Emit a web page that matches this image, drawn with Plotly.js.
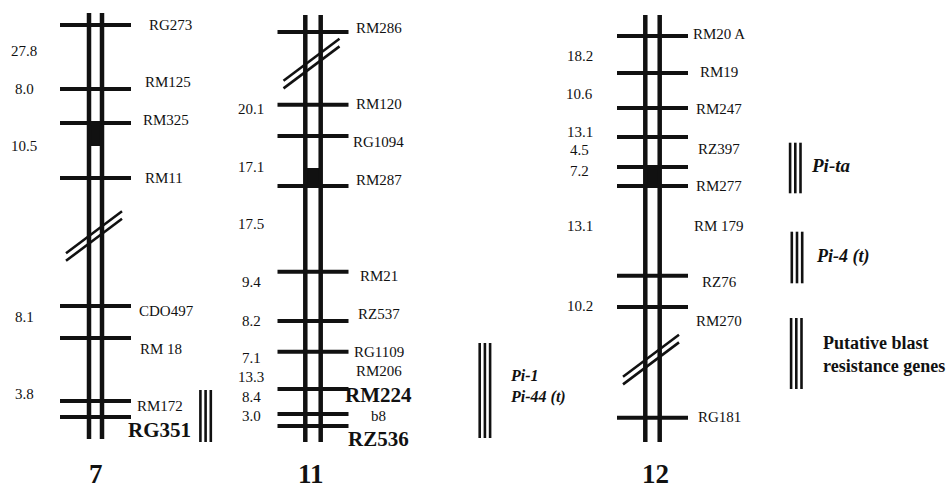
<!DOCTYPE html>
<html><head><meta charset="utf-8">
<script src="https://cdn.plot.ly/plotly-3.0.1.min.js"></script>
<style>html,body{margin:0;padding:0;background:#fff}#chart{width:951px;height:490px}</style>
</head><body><div id="chart"></div>
<script>
// ---------------- data (map positions) ----------------
const chromosomes = ['7', '11', '12'];

const chr7Loci = [25, 89, 123, 178, 306, 338, 401, 417];
const chr7Markers = ['RG273', 'RM125', 'RM325', 'RM11', 'CDO497', 'RM 18', 'RM172', 'RG351'];
const chr7MarkerY = [25, 82, 119.5, 177.5, 311, 349, 406, 430];
const chr7Distances = [27.8, 8.0, 10.5, 8.1, 3.8];
const chr7DistanceY = [51, 89, 146, 317, 394];
const chr7Centromere = [123, 146];
const chr7Break = 236;

const chr11Loci = [32, 104.7, 136, 186, 271.7, 321, 351.7, 389, 414, 426];
const chr11Markers = ['RM286', 'RM120', 'RG1094', 'RM287', 'RM21', 'RZ537', 'RG1109', 'RM206', 'RM224', 'b8', 'RZ536'];
const chr11MarkerY = [27.5, 104, 142, 180, 276, 314, 351.7, 371, 394.5, 416, 439];
const chr11Distances = [20.1, 17.1, 17.5, 9.4, 8.2, 7.1, 13.3, 8.4, 3.0];
const chr11DistanceY = [109, 167, 224, 282, 321, 358, 377, 396.5, 416];
const chr11Centromere = [168, 186];
const chr11Break = 63.6;

const chr12Loci = [36, 73, 108, 137, 167, 186, 275.7, 307, 417.7];
const chr12Markers = ['RM20 A', 'RM19', 'RM247', 'RZ397', 'RM277', 'RM 179', 'RZ76', 'RM270', 'RG181'];
const chr12MarkerY = [34, 71.5, 109, 148.5, 186, 225.8, 282, 320.5, 416.5];
const chr12Distances = [18.2, 10.6, 13.1, 4.5, 7.2, 13.1, 10.2];
const chr12DistanceY = [55.8, 94, 132, 149.5, 171, 225.8, 306];
const chr12Centromere = [167, 187];
const chr12Break = 359.6;

const highlightedMarkers = ['RG351', 'RM224', 'RZ536'];

const geneLabels = ['', 'Pi-1<br>Pi-44 (t)', 'Pi-ta', 'Pi-4 (t)', 'Putative blast<br>resistance genes'];
const geneSpanStart = [390, 343, 142.7, 231.7, 318];
const geneSpanEnd = [442, 438, 193.3, 283.3, 389];

// ---------------- layout helpers (positions / styles) ----------------
const chrGeom = [
  {cx: 95.5, gap: 6.5, top: 13, bottom: 439, distX: 24, titleX: 96,
   labelX: [170, 167.5, 166, 164, 166, 160.7, 160, 159.5]},
  {cx: 313, gap: 7.7, top: 15, bottom: 442, distX: 251, titleX: 311,
   labelX: 378.5},
  {cx: 652.5, gap: 7.2, top: 15, bottom: 442, distX: 579.5, titleX: 655.5,
   labelX: 719}
];
const geneBarX = [205.6, 484.9, 795.3, 797, 796.3];
const geneTextX = [0, 508, 809, 814, 821];
const geneTextY = [0, 386.5, 165, 256.5, 354];
const geneFont = [0, 16, 19, 18, 18];
const geneItalic = [false, true, true, true, false];

const FONT = 'Liberation Serif';
const INK = '#111';
const tickHalf = 35.5;

const chrData = [
  {loci: chr7Loci, markers: chr7Markers, markerY: chr7MarkerY, dist: chr7Distances, distY: chr7DistanceY, cen: chr7Centromere, brk: chr7Break},
  {loci: chr11Loci, markers: chr11Markers, markerY: chr11MarkerY, dist: chr11Distances, distY: chr11DistanceY, cen: chr11Centromere, brk: chr11Break},
  {loci: chr12Loci, markers: chr12Markers, markerY: chr12MarkerY, dist: chr12Distances, distY: chr12DistanceY, cen: chr12Centromere, brk: chr12Break}
];

const traces = [];
const shapes = [];
const annotations = [];

chrData.forEach((c, i) => {
  const g = chrGeom[i];
  shapes.push({type: 'rect', xref: 'x', yref: 'y', x0: g.cx - g.gap, x1: g.cx + g.gap,
    y0: c.cen[0], y1: c.cen[1], fillcolor: INK, line: {width: 0}, layer: 'below'});
  [g.cx - g.gap, g.cx + g.gap].forEach(x => {
    traces.push({type: 'scatter', mode: 'lines', x: [x, x], y: [g.top, g.bottom],
      line: {color: INK, width: 4.5}, hoverinfo: 'skip'});
  });
  const tx = [], ty = [];
  c.loci.forEach(y => { tx.push(g.cx - tickHalf, g.cx + tickHalf, null); ty.push(y, y, null); });
  traces.push({type: 'scatter', mode: 'lines', x: tx, y: ty, line: {color: INK, width: 4}, hoverinfo: 'skip'});
  const bx = g.cx - 1.5;
  [-3.8, 3.8].forEach(off => {
    shapes.push({type: 'line', xref: 'x', yref: 'y', x0: bx - 28, x1: bx + 28,
      y0: c.brk + off + 21, y1: c.brk + off - 21, line: {color: INK, width: 2.6}});
  });
  c.markers.forEach((m, k) => {
    const bold = highlightedMarkers.includes(m);
    const lx = Array.isArray(g.labelX) ? g.labelX[k] : g.labelX;
    annotations.push({xref: 'x', yref: 'y', x: lx, y: c.markerY[k], xanchor: 'center', yanchor: 'middle',
      text: bold ? '<b>' + m + '</b>' : m, showarrow: false,
      font: {family: FONT, size: bold ? 21 : 15, color: INK}});
  });
  c.dist.forEach((d, k) => {
    annotations.push({xref: 'x', yref: 'y', x: g.distX, y: c.distY[k], xanchor: 'center', yanchor: 'middle',
      text: d.toFixed(1), showarrow: false, font: {family: FONT, size: 15, color: INK}});
  });
  annotations.push({xref: 'x', yref: 'y', x: g.titleX, y: 490, xanchor: 'center', yanchor: 'bottom',
    text: '<b>' + chromosomes[i] + '</b>', showarrow: false, borderpad: 0,
    font: {family: FONT, size: 27, color: INK}});
});

geneLabels.forEach((lab, k) => {
  [-5.2, 0, 5.2].forEach(off => {
    traces.push({type: 'scatter', mode: 'lines', x: [geneBarX[k] + off, geneBarX[k] + off],
      y: [geneSpanStart[k], geneSpanEnd[k]], line: {color: INK, width: 2.6}, hoverinfo: 'skip'});
  });
  if (lab) {
    const t = geneItalic[k] ? '<b><i>' + lab + '</i></b>' : '<b>' + lab + '</b>';
    annotations.push({xref: 'x', yref: 'y', x: geneTextX[k], y: geneTextY[k], xanchor: 'left', yanchor: 'middle',
      align: 'left', text: t, showarrow: false, font: {family: FONT, size: geneFont[k], color: INK}});
  }
});

const layout = {
  width: 951, height: 490,
  margin: {l: 0, r: 0, t: 0, b: 0, pad: 0},
  paper_bgcolor: '#fff', plot_bgcolor: '#fff',
  showlegend: false,
  font: {family: FONT, color: INK},
  xaxis: {range: [0, 951], visible: false, fixedrange: true},
  yaxis: {range: [490, 0], visible: false, fixedrange: true},
  shapes: shapes,
  annotations: annotations
};

Plotly.newPlot('chart', traces, layout, {staticPlot: true, displayModeBar: false});
</script>
</body></html>
